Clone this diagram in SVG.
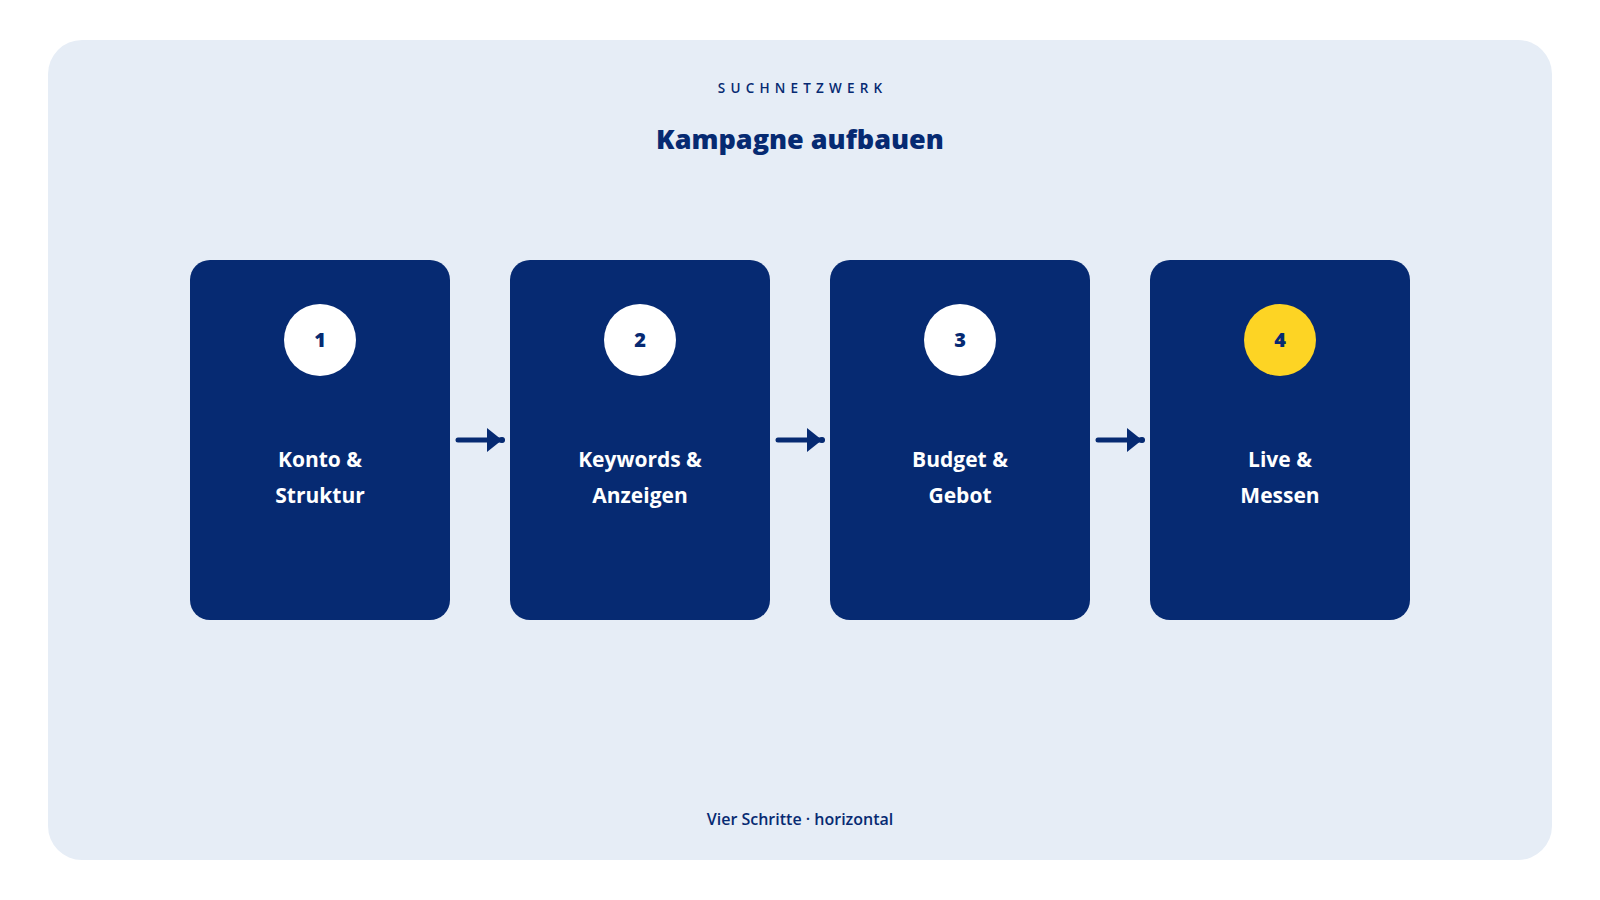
<svg xmlns="http://www.w3.org/2000/svg" width="1600" height="900" viewBox="0 0 1600 900">
<style>
.bg{fill:#ffffff}
.panel{fill:#e6edf6}
.card{fill:#062a72}
.badge{fill:#ffffff}
.badge-hi{fill:#fdd424}
.num{font-family:"Open Sans","Liberation Sans",sans-serif;font-weight:800;font-size:20px;fill:#062a72;text-anchor:middle}
.lbl{font-family:"Open Sans","Liberation Sans",sans-serif;font-weight:700;font-size:21px;fill:#ffffff;text-anchor:middle}
.kicker{font-family:"Open Sans","Liberation Sans",sans-serif;font-weight:600;font-size:13.5px;letter-spacing:5.2px;fill:#062a72;text-anchor:middle}
.title{font-family:"Open Sans","Liberation Sans",sans-serif;font-weight:800;font-size:27px;fill:#062a72;text-anchor:middle}
.foot{font-family:"Open Sans","Liberation Sans",sans-serif;font-weight:600;font-size:16px;fill:#062a72;text-anchor:middle}
.conn{stroke:#062a72;stroke-width:5;stroke-linecap:round;fill:none}
</style>
<defs>
<marker id="ah" viewBox="0 0 18 24" refX="15" refY="12" markerWidth="18" markerHeight="24" markerUnits="userSpaceOnUse" orient="auto">
<path d="M0,0 L15,12 L0,24 Z" fill="#062a72"/>
<circle cx="15" cy="12" r="3" fill="#062a72"/>
</marker>
</defs>
<rect class="bg" x="0" y="0" width="1600" height="900"/>
<rect class="panel" x="48" y="40" width="1504" height="820" rx="34"/>
<text class="kicker" x="802.6" y="93">SUCHNETZWERK</text>
<text class="title" x="800" y="149">Kampagne aufbauen</text>

<g id="step1">
<rect class="card" x="190" y="260" width="260" height="360" rx="20"/>
<circle class="badge" cx="320" cy="340" r="36"/>
<text class="num" x="320" y="347">1</text>
<text class="lbl" x="320" y="467">Konto &amp;</text>
<text class="lbl" x="320" y="503">Struktur</text>
</g>
<g id="step2">
<rect class="card" x="510" y="260" width="260" height="360" rx="20"/>
<circle class="badge" cx="640" cy="340" r="36"/>
<text class="num" x="640" y="347">2</text>
<text class="lbl" x="640" y="467">Keywords &amp;</text>
<text class="lbl" x="640" y="503">Anzeigen</text>
</g>
<g id="step3">
<rect class="card" x="830" y="260" width="260" height="360" rx="20"/>
<circle class="badge" cx="960" cy="340" r="36"/>
<text class="num" x="960" y="347">3</text>
<text class="lbl" x="960" y="467">Budget &amp;</text>
<text class="lbl" x="960" y="503">Gebot</text>
</g>
<g id="step4">
<rect class="card" x="1150" y="260" width="260" height="360" rx="20"/>
<circle class="badge-hi" cx="1280" cy="340" r="36"/>
<text class="num" x="1280" y="347">4</text>
<text class="lbl" x="1280" y="467">Live &amp;</text>
<text class="lbl" x="1280" y="503">Messen</text>
</g>

<g id="connectors">
<line class="conn" x1="458" y1="440" x2="502" y2="440" marker-end="url(#ah)"/>
<line class="conn" x1="778" y1="440" x2="822" y2="440" marker-end="url(#ah)"/>
<line class="conn" x1="1098" y1="440" x2="1142" y2="440" marker-end="url(#ah)"/>
</g>

<text class="foot" x="800" y="825">Vier Schritte · horizontal</text>
</svg>
